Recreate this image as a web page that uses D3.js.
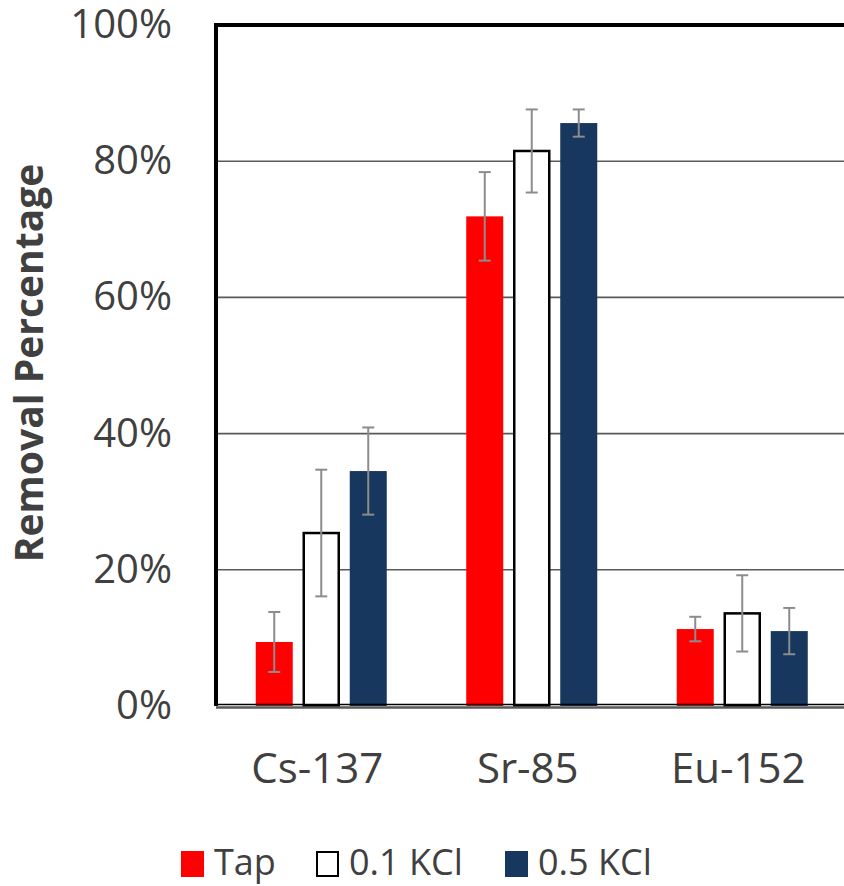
<!DOCTYPE html>
<html><head><meta charset="utf-8">
<script src="https://cdn.jsdelivr.net/npm/d3@7"></script>
<style>body{margin:0;background:#fff}svg{display:block}</style>
</head><body>
<script>
const categories = ["Cs-137", "Sr-85", "Eu-152"];
const seriesNames = ["Tap", "0.1 KCl", "0.5 KCl"];
const tapValues = [9.4, 71.9, 11.3];
const kcl01Values = [25.4, 81.5, 13.6];
const kcl05Values = [34.5, 85.6, 11.0];
const tapErrors = [4.4, 6.5, 1.8];
const kcl01Errors = [9.3, 6.1, 5.6];
const kcl05Errors = [6.4, 2.0, 3.4];
const yTicks = [0, 20, 40, 60, 80, 100];
const yTitle = "Removal Percentage";

const colors = ["#ff0000", "#ffffff", "#17375e"];
const strokes = ["none", "#000000", "none"];
const values = [tapValues, kcl01Values, kcl05Values];
const errors = [tapErrors, kcl01Errors, kcl05Errors];

const W = 844, H = 886;
const pLeft = 216, pTop = 25, pBottom = 706, pRight = 216 + 3 * 210.5;
const font = "'Open Sans', sans-serif";
const textCol = "#404040";

const svg = d3.select("body").append("svg").attr("width", W).attr("height", H);

const x = d3.scaleBand().domain(categories).range([pLeft, pRight]).paddingInner(0).paddingOuter(0);
const y = d3.scaleLinear().domain([0, 100]).range([pBottom, pTop]);
const barW = 37, barStep = 47;

// gridlines
svg.append("g").selectAll("line").data(yTicks.filter(d => d > 0 && d < 100)).join("line")
  .attr("x1", pLeft).attr("x2", W).attr("y1", d => y(d)).attr("y2", d => y(d))
  .attr("stroke", "#595959").attr("stroke-width", 1.6);

// y tick labels
svg.append("g").selectAll("text").data(yTicks).join("text")
  .attr("x", 172).attr("y", d => y(d) + 13)
  .attr("text-anchor", "end").attr("font-family", font).attr("font-size", 40)
  .attr("fill", textCol).text(d => d + "%");

// bars
const groups = svg.append("g");
seriesNames.forEach((s, si) => {
  const g = groups.append("g");
  const sw = strokes[si] !== "none" ? 1 : 0;
  g.selectAll("rect").data(categories).join("rect")
    .attr("x", c => x(c) + x.bandwidth() / 2 + (si - 1) * barStep - barW / 2 + sw)
    .attr("width", barW - 2 * sw)
    .attr("y", (c, i) => y(values[si][i]))
    .attr("height", (c, i) => y(0) - y(values[si][i]))
    .attr("fill", colors[si]).attr("stroke", strokes[si]).attr("stroke-width", 2.5);
});

// baseline
svg.append("line").attr("x1", pLeft).attr("x2", W).attr("y1", y(0) - 1.5).attr("y2", y(0) - 1.5)
  .attr("stroke", "#000").attr("stroke-width", 1.5);
svg.append("line").attr("x1", pLeft).attr("x2", W).attr("y1", y(0) + 1.5).attr("y2", y(0) + 1.5)
  .attr("stroke", "#595959").attr("stroke-width", 2.5);

// error bars
seriesNames.forEach((s, si) => {
  const g = svg.append("g").attr("stroke", "#8c8c8c").attr("stroke-width", 2);
  categories.forEach((c, i) => {
    const cx = x(c) + x.bandwidth() / 2 + (si - 1) * barStep;
    const hi = y(values[si][i] + errors[si][i]);
    const lo = y(values[si][i] - errors[si][i]);
    g.append("line").attr("x1", cx).attr("x2", cx).attr("y1", hi).attr("y2", lo);
    g.append("line").attr("x1", cx - 6).attr("x2", cx + 6).attr("y1", hi).attr("y2", hi);
    g.append("line").attr("x1", cx - 6).attr("x2", cx + 6).attr("y1", lo).attr("y2", lo);
  });
});

// frame top and left
svg.append("line").attr("x1", pLeft).attr("x2", W).attr("y1", pTop).attr("y2", pTop)
  .attr("stroke", "#000").attr("stroke-width", 4);
svg.append("line").attr("x1", pLeft).attr("x2", pLeft).attr("y1", pTop - 2).attr("y2", pBottom)
  .attr("stroke", "#000").attr("stroke-width", 4);

// category labels
svg.append("g").selectAll("text").data(categories).join("text")
  .attr("x", c => x(c) + x.bandwidth() / 2 - 4).attr("y", 783)
  .attr("text-anchor", "middle").attr("font-family", font).attr("font-size", 42)
  .attr("fill", textCol).text(c => c);

// y title
svg.append("text").attr("transform", "translate(43,363) rotate(-90)")
  .attr("text-anchor", "middle").attr("font-family", font).attr("font-size", 39)
  .attr("font-weight", "bold").attr("fill", textCol).text(yTitle);

// legend
const legX = [181, 316, 505];
const leg = svg.append("g");
seriesNames.forEach((s, si) => {
  const sw = strokes[si] !== "none" ? 1 : 0;
  leg.append("rect").attr("x", legX[si] + sw).attr("y", 851 + sw)
    .attr("width", 23 - 2 * sw).attr("height", 26 - 2 * sw)
    .attr("fill", colors[si]).attr("stroke", strokes[si]).attr("stroke-width", 2);
  leg.append("text").attr("x", legX[si] + 33).attr("y", 875)
    .attr("font-family", font).attr("font-size", 36).attr("fill", textCol).text(s);
});
</script>
</body></html>
